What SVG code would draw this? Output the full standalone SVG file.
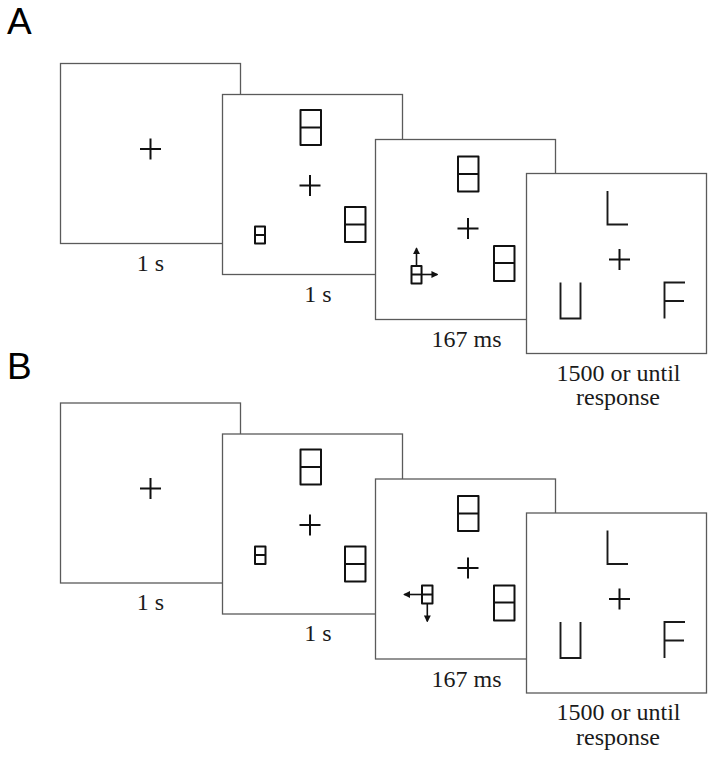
<svg xmlns="http://www.w3.org/2000/svg" width="714" height="760" viewBox="0 0 714 760">
<defs>
<style>
.screen{fill:#fff;stroke:#5a5a5a;stroke-width:1.3}
.fix{stroke:#111;stroke-width:2;fill:none}
.ph{fill:none;stroke:#111;stroke-width:2;stroke-linejoin:round}
.let{fill:none;stroke:#1a1a1a;stroke-width:1.9}
.cue{stroke:#111;stroke-width:1.6;fill:none;marker-end:url(#ah)}
.lbl{font-family:"Liberation Serif","Times New Roman",serif;font-size:24px;fill:#1a1a1a;text-anchor:middle}
.pan{font-family:"Liberation Sans",Arial,sans-serif;font-size:37px;fill:#000}
</style>
<marker id="ah" viewBox="0 0 6 6" refX="5" refY="3" markerWidth="7" markerHeight="7" markerUnits="userSpaceOnUse" orient="auto">
<path d="M0,0 L6,3 L0,6 z" fill="#111"/>
</marker>
</defs>
<rect x="0" y="0" width="714" height="760" fill="#fff"/>

<text class="pan" x="7" y="34">A</text>
<text class="pan" x="7" y="379">B</text>

<!-- Panel A -->
<g id="panelA">
<g id="A-fixation">
<rect class="screen" x="60.5" y="63.5" width="180" height="180"/>
<path class="fix" d="M140,149 H161 M150.5,138.5 V159.5"/>
<text class="lbl" x="150.5" y="270.5">1 s</text>
</g>
<g id="A-placeholders">
<rect class="screen" x="222.5" y="94.5" width="180" height="180"/>
<path class="fix" d="M299.5,185.5 H320.5 M310,175 V196"/>
<rect class="ph" x="300.5" y="110" width="20.5" height="35"/>
<path class="ph" d="M300.5,127.5 H321"/>
<rect class="ph" x="345" y="207" width="20.5" height="35"/>
<path class="ph" d="M345,224.5 H365.5"/>
<rect class="ph" x="255" y="226.5" width="10" height="17"/>
<path class="ph" d="M255,235 H265"/>
<text class="lbl" x="318" y="301.5">1 s</text>
</g>
<g id="A-cue">
<rect class="screen" x="375.5" y="139.5" width="180" height="180"/>
<path class="fix" d="M457.5,228.5 H478.5 M468,218 V239"/>
<rect class="ph" x="458" y="156.5" width="20.5" height="35"/>
<path class="ph" d="M458,174 H478.5"/>
<rect class="ph" x="494" y="246" width="20.5" height="35"/>
<path class="ph" d="M494,263 H514.5"/>
<rect class="ph" x="411.5" y="266" width="10" height="17.5"/>
<path class="ph" d="M411.5,274.5 H421.5"/>
<g id="A-cue-arrows">
<line class="cue" x1="416.5" y1="266" x2="416.5" y2="248.3"/>
<line class="cue" x1="421.5" y1="274.5" x2="437.3" y2="274.5"/>
</g>
<text class="lbl" x="466.5" y="347">167 ms</text>
</g>
<g id="A-target">
<rect class="screen" x="526.5" y="173.5" width="180" height="180"/>
<path class="fix" d="M609,259.5 H630 M619.5,249 V270"/>
<path class="let" d="M607.5,191 V224.5 H628"/>
<path class="let" d="M560.5,282.5 V318.5 H580.5 V282.5"/>
<path class="let" d="M664.5,318.5 V282.5 H685 M664.5,301 H684"/>
<text class="lbl" x="618.5" y="380.5">1500 or until</text>
<text class="lbl" x="618" y="405">response</text>
</g>
</g>

<!-- Panel B -->
<g id="panelB" transform="translate(0,339.5)">
<g id="B-fixation">
<rect class="screen" x="60.5" y="63.5" width="180" height="180"/>
<path class="fix" d="M140,149 H161 M150.5,138.5 V159.5"/>
<text class="lbl" x="150.5" y="270.5">1 s</text>
</g>
<g id="B-placeholders">
<rect class="screen" x="222.5" y="94.5" width="180" height="180"/>
<path class="fix" d="M299.5,185.5 H320.5 M310,175 V196"/>
<rect class="ph" x="300.5" y="110" width="20.5" height="35"/>
<path class="ph" d="M300.5,127.5 H321"/>
<rect class="ph" x="345" y="207" width="20.5" height="35"/>
<path class="ph" d="M345,224.5 H365.5"/>
<rect class="ph" x="255" y="207" width="10.5" height="17.5"/>
<path class="ph" d="M255,215.5 H265.5"/>
<text class="lbl" x="318" y="301.5">1 s</text>
</g>
<g id="B-cue">
<rect class="screen" x="375.5" y="139.5" width="180" height="180"/>
<path class="fix" d="M457.5,228.5 H478.5 M468,218 V239"/>
<rect class="ph" x="458" y="156.5" width="20.5" height="35"/>
<path class="ph" d="M458,174 H478.5"/>
<rect class="ph" x="494" y="246" width="20.5" height="35"/>
<path class="ph" d="M494,263 H514.5"/>
<rect class="ph" x="422" y="246" width="10.5" height="18"/>
<path class="ph" d="M422,255 H432.5"/>
<g id="B-cue-arrows">
<line class="cue" x1="422" y1="255" x2="404.3" y2="255"/>
<line class="cue" x1="427.3" y1="264" x2="427.3" y2="281.8"/>
</g>
<text class="lbl" x="466.5" y="347">167 ms</text>
</g>
<g id="B-target">
<rect class="screen" x="526.5" y="173.5" width="180" height="180"/>
<path class="fix" d="M609,259.5 H630 M619.5,249 V270"/>
<path class="let" d="M607.5,191 V224.5 H628"/>
<path class="let" d="M560.5,282.5 V318.5 H580.5 V282.5"/>
<path class="let" d="M664.5,318.5 V282.5 H685 M664.5,301 H684"/>
<text class="lbl" x="618.5" y="380.5">1500 or until</text>
<text class="lbl" x="618" y="405">response</text>
</g>
</g>
</svg>
